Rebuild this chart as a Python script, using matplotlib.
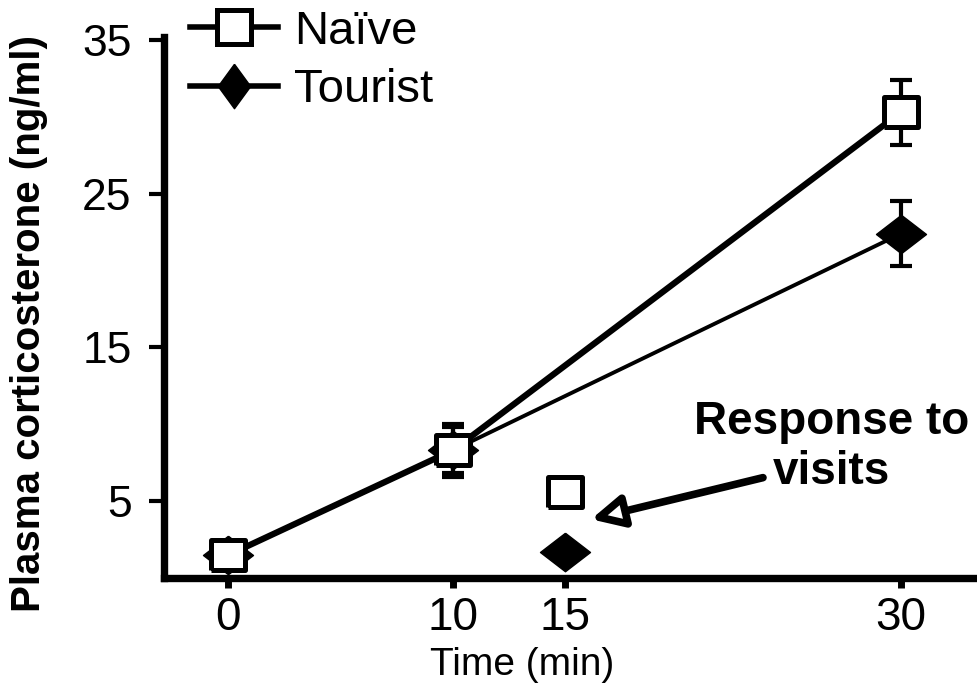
import numpy as np
import matplotlib
matplotlib.use("Agg")
import matplotlib.pyplot as plt
from matplotlib.lines import Line2D

plt.rcParams['font.family'] = ['Liberation Sans', 'DejaVu Sans']

# time course (min) and plasma corticosterone (ng/ml), mean and sem
times = [0, 10, 30]
naive_mean = [1.5, 8.3, 30.3]
naive_sem = [0.3, 1.7, 2.1]
tourist_mean = [1.5, 8.3, 22.4]
tourist_sem = [0.3, 1.5, 2.1]

# isolated points: response to visits at 15 min
visit_time = [15]
naive_visit = [5.6]
naive_visit_sem = [0.5]
tourist_visit = [1.7]
tourist_visit_sem = [0.2]

x_ticks = [0, 10, 15, 30]
y_ticks = [5, 15, 25, 35]

# wide-ish shapes as in the original figure
square = [(-1, -0.875), (1, -0.875), (1, 0.875), (-1, 0.875), (-1, -0.875)]
diamond = [(0, 0.77), (1, 0), (0, -0.77), (-1, 0), (0, 0.77)]
tall_diamond = [(0, 1), (0.73, 0), (0, -1), (-0.73, 0), (0, 1)]

fig = plt.figure(figsize=(9.77, 6.9), dpi=100)
ax = fig.add_axes([163.5 / 977, (690 - 578) / 690, (977 - 163.5) / 977, (578 - 37) / 690])

err_kw = dict(fmt='none', ecolor='black', elinewidth=3, capsize=8, capthick=3)

# tourist first, naive on top of it
ax.errorbar(times, tourist_mean, yerr=tourist_sem, zorder=2, **err_kw)
ax.plot(times, tourist_mean, color='black', lw=2.8, marker=diamond, ms=36,
        mfc='black', mec='black', mew=1, zorder=3)
ax.errorbar(visit_time, tourist_visit, yerr=tourist_visit_sem, zorder=2, **err_kw)
ax.plot(visit_time, tourist_visit, ls='none', marker=diamond, ms=36,
        mfc='black', mec='black', mew=1, zorder=3)

ax.errorbar(times, naive_mean, yerr=naive_sem, zorder=4, **err_kw)
ax.plot(times, naive_mean, color='black', lw=4.5, marker=square, ms=25,
        mfc='white', mec='black', mew=3.6, zorder=5)
ax.errorbar(visit_time, naive_visit, yerr=naive_visit_sem, zorder=4, **err_kw)
ax.plot(visit_time, naive_visit, ls='none', marker=square, ms=25,
        mfc='white', mec='black', mew=3.6, zorder=5)

ax.set_xlim(-2.9, 33.4)
ax.set_ylim(0, 35.2)
ax.set_xticks(x_ticks)
ax.set_yticks(y_ticks)
ax.set_xticklabels([str(t) for t in x_ticks])
ax.set_yticklabels([str(t) for t in y_ticks])

for side in ['top', 'right']:
    ax.spines[side].set_visible(False)
for side in ['left', 'bottom']:
    ax.spines[side].set_linewidth(5.3)
    ax.spines[side].set_capstyle('projecting')

ax.tick_params(axis='y', direction='out', length=11, width=3, pad=12, labelsize=32)
ax.tick_params(axis='x', direction='out', length=7, width=5, pad=6, labelsize=33)

ax.set_xlabel('Time (min)', fontsize=28)
ax.xaxis.set_label_coords(0.441, -0.128)
ax.set_ylabel('Plasma corticosterone (ng/ml)', fontsize=29, fontweight='bold')
ax.yaxis.set_label_coords(-0.1425, 0.471)

# arrow pointing to the 15 min points
ax.annotate('', xy=(16.18, 3.82), xytext=(23.85, 6.53),
            arrowprops=dict(arrowstyle='-|>,head_length=1.9,head_width=0.95',
                            lw=5.5, fc='white', ec='black', shrinkA=0, shrinkB=0),
            zorder=6)
ax.text(26.9, 8.5, 'Response to\nvisits', fontsize=33, fontweight='bold',
        ha='center', va='center', linespacing=1.18)

handles = [
    Line2D([], [], color='black', lw=4, marker='s', ms=24, mfc='white', mec='black', mew=3.6),
    Line2D([], [], color='black', lw=4, marker=tall_diamond, ms=32, mfc='black', mec='black'),
]
ax.legend(handles, ['Naïve', 'Tourist'], loc='upper left',
          bbox_to_anchor=(190 / 977, 1 - 10 / 690), bbox_transform=fig.transFigure,
          fontsize=34, frameon=False, borderpad=0, borderaxespad=0,
          handlelength=1.86, handletextpad=0.35, labelspacing=0.3)

fig.savefig('out.png', dpi=100)
